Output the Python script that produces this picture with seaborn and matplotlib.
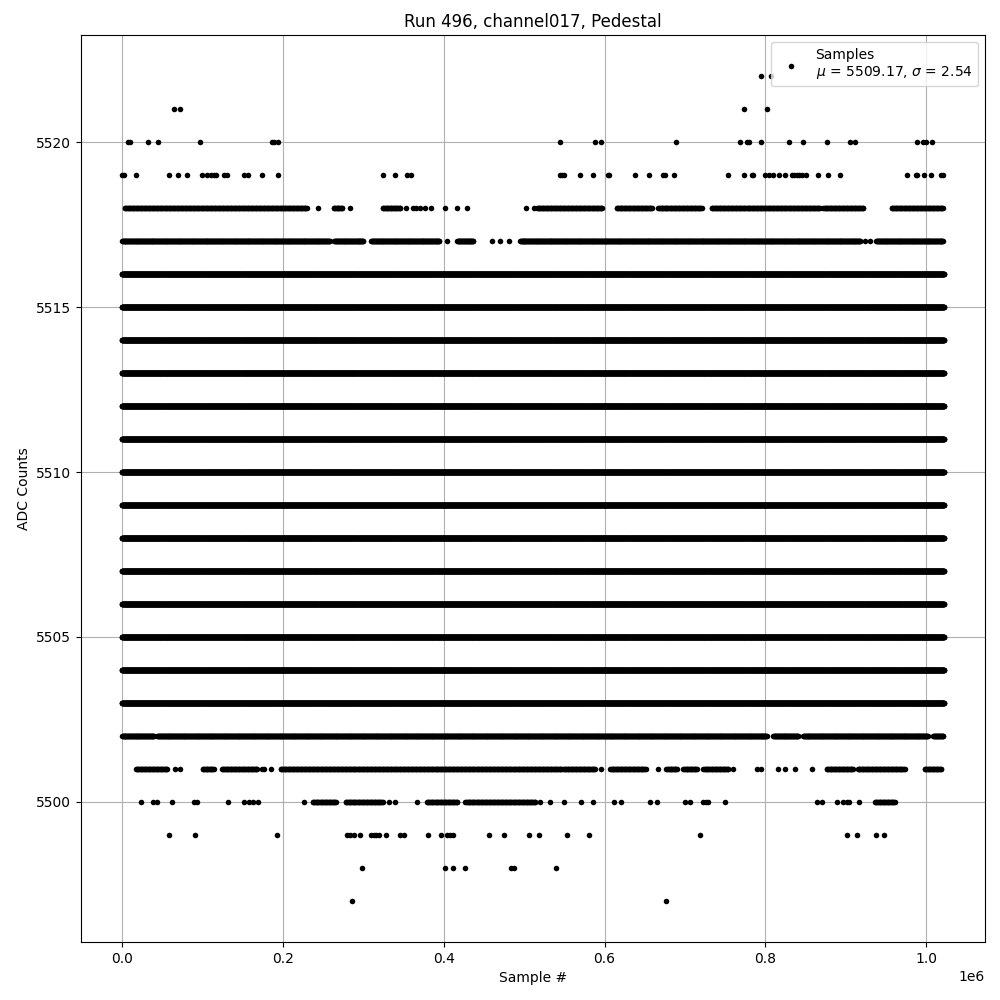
import numpy as np
import pandas as pd
import matplotlib
matplotlib.use("Agg")
import matplotlib.pyplot as plt
import seaborn as sns

# sample positions are in thousands of samples
full_span = [(0, 1022)]
dense_levels = [5503, 5504, 5505, 5506, 5507, 5508, 5509, 5510,
                5511, 5512, 5513, 5514, 5515, 5516]

segs_5518 = [(3, 230), (263, 274), (324, 346), (516, 597), (615, 659),
             (667, 721), (733, 868), (872, 922), (957, 1021)]
pts_5518 = [244, 283, 353, 362, 366, 370, 377, 384, 401, 417, 429, 502, 512]

segs_5517 = [(0, 258), (264, 300), (310, 395), (417, 437), (495, 918), (938, 1021)]
pts_5517 = [404, 460, 470, 481, 924, 930]

segs_5502 = [(0, 40), (44, 802), (810, 841), (847, 1002), (1009, 1021)]

segs_5501 = [(17, 56), (100, 114), (124, 168), (197, 547), (549, 588), (607, 651),
             (677, 690), (698, 715), (723, 754), (876, 909), (915, 973), (998, 1019)]
pts_5501 = [66, 72, 174, 176, 185, 596, 667, 760, 789, 795, 816, 825, 837, 858]

segs_5500 = [(237, 266), (278, 324), (379, 417), (427, 514), (936, 961)]
pts_5500 = [24, 38, 44, 62, 89, 93, 132, 152, 158, 163, 169, 226, 332, 339, 367,
            520, 532, 550, 571, 586, 612, 621, 656, 665, 700, 706, 722, 726, 729,
            750, 864, 870, 889, 896, 901, 904, 917]

pts_5522 = [795, 807]
pts_5521 = [65, 72, 774, 802]
pts_5520 = [7, 10, 32, 45, 97, 186, 189, 194, 545, 588, 596, 689, 769, 777, 780,
            795, 829, 847, 876, 905, 911, 988, 996, 1000, 1007]
pts_5519 = [0, 2, 17, 58, 70, 81, 99, 105, 110, 114, 117, 127, 130, 152, 156, 174,
            194, 324, 340, 354, 359, 545, 547, 549, 570, 586, 604, 606, 638, 655,
            673, 675, 686, 754, 773, 783, 785, 800, 804, 809, 817, 824, 833, 836,
            839, 842, 846, 851, 866, 878, 893, 976, 987, 989, 997, 1006, 1018, 1021]
pts_5499 = [58, 91, 193, 280, 283, 288, 296, 309, 313, 316, 319, 328, 346, 350,
            381, 396, 404, 408, 412, 456, 475, 506, 519, 553, 581, 719, 901, 914,
            937, 948]
pts_5498 = [298, 402, 411, 427, 484, 487, 540]
pts_5497 = [286, 677]


def level_samples(level, segs=(), pts=(), step=1000):
    xs = [np.arange(a * 1000, b * 1000 + 1, step) for a, b in segs]
    xs.append(np.array(pts, dtype=float) * 1000)
    x = np.concatenate(xs)
    return pd.DataFrame({"sample": x, "adc": np.full(len(x), level)})


# fully populated ADC values: every sample shows up, so the band is solid
frames = [level_samples(lv, full_span, step=250) for lv in dense_levels]
frames += [
    level_samples(5522, pts=pts_5522),
    level_samples(5521, pts=pts_5521),
    level_samples(5520, pts=pts_5520),
    level_samples(5519, pts=pts_5519),
    level_samples(5518, segs_5518, pts_5518),
    level_samples(5517, segs_5517, pts_5517, step=600),
    level_samples(5502, segs_5502, step=600),
    level_samples(5501, segs_5501, pts_5501),
    level_samples(5500, segs_5500, pts_5500),
    level_samples(5499, pts=pts_5499),
    level_samples(5498, pts=pts_5498),
    level_samples(5497, pts=pts_5497),
]
df = pd.concat(frames, ignore_index=True)

fig, ax = plt.subplots(figsize=(10, 10), dpi=100)
sns.scatterplot(data=df, x="sample", y="adc", color="black", marker="o", s=16,
                linewidth=0, label="Samples\n$\\mu$ = 5509.17, $\\sigma$ = 2.54", ax=ax)
ax.set_title("Run 496, channel017, Pedestal")
ax.set_xlabel("Sample #")
ax.set_ylabel("ADC Counts")
ax.grid(True)
ax.set_axisbelow(True)
ax.legend(loc="upper right")
fig.subplots_adjust(left=0.081, right=0.985, top=0.965, bottom=0.058)
fig.savefig("out.png")
